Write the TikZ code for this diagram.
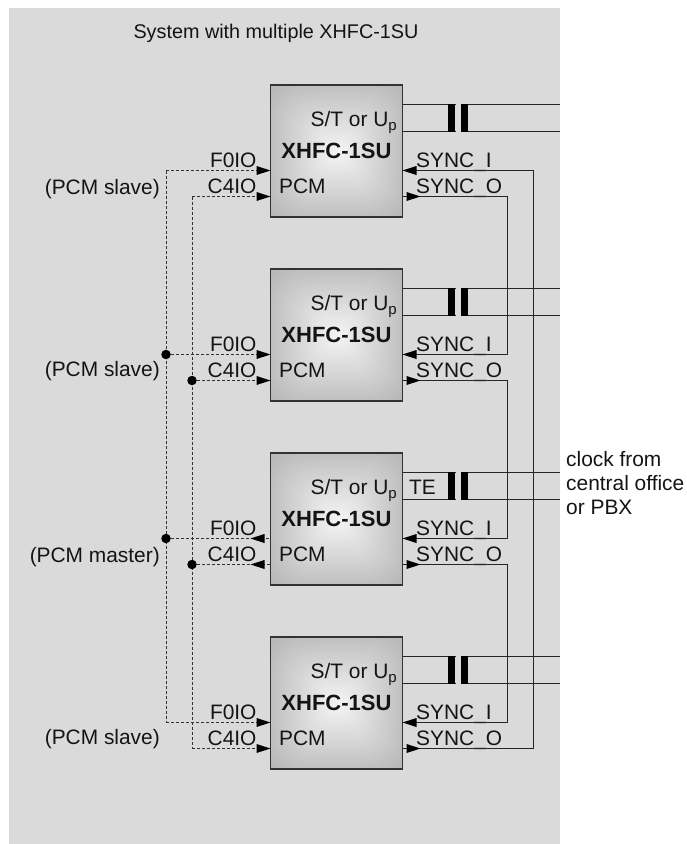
\documentclass[tikz,border=0pt]{standalone}
\usepackage{fontspec}
\setmainfont{Liberation Sans}
\usetikzlibrary{arrows.meta,calc}
\definecolor{panel}{gray}{0.855}
\definecolor{ink}{gray}{0.08}
\pgfdeclarefunctionalshading{chipshade}{\pgfpoint{0bp}{0bp}}{\pgfpoint{100bp}{100bp}}{}{%
 50 sub 50 div dup mul dup mul exch 50 sub 50 div dup mul dup mul add sqrt sqrt
 0.42 mul 0.96 exch sub dup dup}
\tikzset{
 chip/.style={draw=black!80,line width=1.1pt,shading=chipshade,minimum width=132pt,minimum height=132pt,inner sep=0pt,outer sep=0pt},
 lbl/.style={font=\fontsize{20.9}{22}\selectfont,inner sep=0pt,text=ink,anchor=base},
 lblr/.style={lbl,anchor=base east},
 lbll/.style={lbl,anchor=base west},
 boldlbl/.style={lbl,font=\fontsize{22}{24}\selectfont\bfseries},
 wire/.style={draw=black!85,line width=1.2pt},
 dashw/.style={draw=black!80,line width=1pt,dash pattern=on 3pt off 2pt},
 bar/.style={fill=black,draw=none,minimum width=7.5pt,minimum height=28pt,inner sep=0pt,outer sep=0pt},
 dotn/.style={circle,fill=black,draw=none,minimum size=9.5pt,inner sep=0pt,outer sep=0pt},
}
\begin{document}
\begin{tikzpicture}[x=1pt,y=-1pt]
\useasboundingbox (0,0) rectangle (686,844);
\fill[panel] (9,8) rectangle (560,844);
\node[lbl,font=\fontsize{19.8}{22}\selectfont] (title) at (276,38) {System with multiple XHFC-1SU};
% chips
\foreach \i/\y in {1/151,2/335,3/519,4/703}{
 \node[chip] (chip\i) at (336.5,\y) {};
 \coordinate (f\i) at (270.5,\y+19.5);
 \coordinate (c\i) at (270.5,\y+45.5);
 \coordinate (si\i) at (402.5,\y+19.5);
 \coordinate (so\i) at (402.5,\y+45.5);
 \coordinate (t\i) at (402.5,\y-46.5);
 \coordinate (b\i) at (402.5,\y-19.5);
 \coordinate (te\i) at (560,\y-46.5);
 \coordinate (be\i) at (560,\y-19.5);
 \draw[wire] (t\i) -- (te\i);
 \draw[wire] (b\i) -- (be\i);
 \node[bar] (ba\i) at (451.5,\y-33) {};
 \node[bar] (bb\i) at (464.5,\y-33) {};
 \fill[panel] (455.5,\y-47.5) rectangle (460.5,\y-18.5);
 \node[lbl,anchor=base east] (st\i) at (397,\y-24.3) {S/T or U\raisebox{-4pt}{\fontsize{15}{16}\selectfont p}};
 \node[boldlbl,anchor=base] (nm\i) at (336.5,\y+7.3) {XHFC-1SU};
 \node[lbll] (pcm\i) at (279,\y+42.2) {PCM};
 \node[lblr] (fl\i) at (256.7,\y+16.2) {F0IO};
 \node[lblr] (cl\i) at (256.7,\y+42.2) {C4IO};
 \node[lbll] (sl\i) at (416,\y+16.2) {SYNC\_I};
 \node[lbll] (ol\i) at (416,\y+42.2) {SYNC\_O};
}
\node[lblr] (m1) at (160,194) {(PCM slave)};
\node[lblr] (m2) at (160,376) {(PCM slave)};
\node[lblr] (m3) at (160,562) {(PCM master)};
\node[lblr] (m4) at (160,744) {(PCM slave)};
\node[lbl,anchor=base west] (te) at (409,494) {TE};
\node[lbl,anchor=base west] (k1) at (566,466) {clock from};
\node[lbl,anchor=base west] (k2) at (566,490) {central office};
\node[lbl,anchor=base west] (k3) at (566,514) {or PBX};
% dashed clock buses
\coordinate (x1) at (166,0);
\coordinate (x2) at (192,0);
\draw[dashw] (f1 -| x1) -- (f4 -| x1) (f1 -| x1) -- (f1);
\draw[dashw] (c1 -| x2) -- (c4 -| x2) (c1 -| x2) -- (c1);
\draw[dashw] (f2 -| x1) -- (f2);
\draw[dashw] (c2 -| x2) -- (c2);
\draw[dashw] (f3 -| x1) -- (f3);
\draw[dashw] (c3 -| x2) -- (c3);
\draw[dashw] (f4 -| x1) -- (f4);
\draw[dashw] (c4 -| x2) -- (c4);
\foreach \i in {2,3}{
 \node[dotn] (df\i) at (f\i -| x1) {};
 \node[dotn] (dc\i) at (c\i -| x2) {};
}
\foreach \i in {1,2,4}{
 \fill[black] (f\i) -- ++(-14,-4.5) -- ++(0,9) -- cycle;
 \fill[black] (c\i) -- ++(-14,-4.5) -- ++(0,9) -- cycle;
}
\fill[black] ($(f3)+(-20,0)$) -- ++(14,-4.5) -- ++(0,9) -- cycle;
\fill[black] ($(c3)+(-20,0)$) -- ++(14,-4.5) -- ++(0,9) -- cycle;
% sync chain
\coordinate (x3) at (507.5,0);
\coordinate (x4) at (533.5,0);
\draw[wire] (so1) -- (so1 -| x3) -- (si2 -| x3) -- (si2);
\draw[wire] (so2) -- (so2 -| x3) -- (si3 -| x3) -- (si3);
\draw[wire] (so3) -- (so3 -| x3) -- (si4 -| x3) -- (si4);
\draw[wire] (so4) -- (so4 -| x4) -- (si1 -| x4) -- (si1);
\foreach \i in {1,2,3,4}{
 \fill[black] (si\i) -- ++(14,-4.5) -- ++(0,9) -- cycle;
 \fill[black] ($(so\i)+(18,0)$) -- ++(-14,-4.5) -- ++(0,9) -- cycle;
}
\end{tikzpicture}
\end{document}
